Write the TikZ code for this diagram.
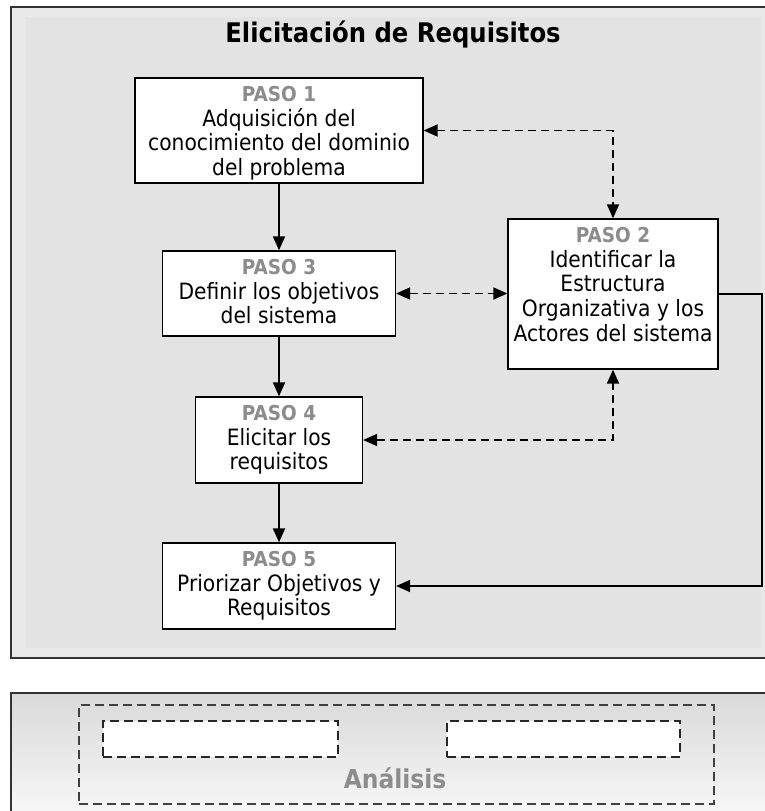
\documentclass[tikz,border=0pt]{standalone}
\usepackage{fontspec}
\setmainfont{DejaVu Sans}[FakeStretch=0.9]
\usetikzlibrary{arrows.meta}

\definecolor{framegray}{HTML}{333333}
\definecolor{bandgray}{HTML}{E9E9E9}
\definecolor{panelgray}{HTML}{E3E3E3}
\definecolor{pasogray}{HTML}{8C8C8C}
\definecolor{shadetop}{HTML}{D9D9D9}
\definecolor{shadebottom}{HTML}{F9F9F9}

\newcommand\pasolabel[1]{{\fontsize{20.5}{24.7}\selectfont\bfseries\color{pasogray}#1}}

\begin{document}
\begin{tikzpicture}[x=1pt,y=-1pt,
  stepbox/.style={draw=black, line width=1.3pt, fill=white, inner sep=0pt},
  steptext/.style={anchor=north, inner sep=0pt, align=center,
    font=\fontsize{22.5}{24.7}\selectfont},
  flow/.style={line width=1.8pt, -{Triangle[length=14pt,width=12pt]}},
  link/.style={line width=1.8pt, dash pattern=on 8pt off 5pt,
    {Triangle[length=14pt,width=12pt]}-{Triangle[length=14pt,width=12pt]}},
  slot/.style={draw=black!85, fill=white, line width=1.8pt,
    dash pattern=on 9pt off 5pt, inner sep=0pt, minimum width=235pt, minimum height=36pt}
]
\useasboundingbox (0,0) rectangle (764,811);

% upper panel: frame, outer band and inner area
\fill[bandgray] (11,7) rectangle (775,658);
\fill[panelgray] (26,17) rectangle (761,648);
\draw[framegray, line width=2pt] (775,7) -- (11,7) -- (11,658) -- (775,658);

% lower panel with vertical shading
\shade[top color=shadetop, bottom color=shadebottom] (11,693) rectangle (775,820);
\draw[framegray, line width=2pt] (775,693) -- (11,693) -- (11,820);

% title
\node[font=\fontsize{27}{30}\selectfont\bfseries, anchor=base, inner sep=0pt]
  (title) at (393,42) {Elicitación de Requisitos};

% step boxes
\node[stepbox, minimum width=288pt, minimum height=105pt] (p1) at (279,130.5) {};
\node[stepbox, minimum width=210pt, minimum height=150pt] (p2) at (613,294) {};
\node[stepbox, minimum width=233pt, minimum height=85pt]  (p3) at (279,293.5) {};
\node[stepbox, minimum width=167pt, minimum height=86pt]  (p4) at (279,440) {};
\node[stepbox, minimum width=233pt, minimum height=86pt]  (p5) at (279,586) {};

% step texts
\node[steptext] (t1) at ([yshift=-7pt]p1.north)
  {\rule{0pt}{17pt}\pasolabel{PASO 1}\\Adquisición del\\conocimiento del dominio\\del problema};
\node[steptext] (t2) at ([yshift=-7pt]p2.north)
  {\rule{0pt}{17pt}\pasolabel{PASO 2}\\Identificar la\\Estructura\\Organizativa y los\\Actores del sistema};
\node[steptext] (t3) at ([yshift=-7pt]p3.north)
  {\rule{0pt}{17pt}\pasolabel{PASO 3}\\Definir los objetivos\\del sistema};
\node[steptext] (t4) at ([yshift=-7pt]p4.north)
  {\rule{0pt}{17pt}\pasolabel{PASO 4}\\Elicitar los\\requisitos};
\node[steptext] (t5) at ([yshift=-7pt]p5.north)
  {\rule{0pt}{17pt}\pasolabel{PASO 5}\\Priorizar Objetivos y\\Requisitos};

% main sequence
\draw[flow] (p1.south) -- (p3.north);
\draw[flow] (p3.south) -- (p4.north);
\draw[flow] (p4.south) -- (p5.north);

% feedback from step 2 into step 5
\coordinate (loop) at (762,294);
\draw[flow] (p2.east) -- (loop) |- (p5.east);

% two-way exchanges with step 2
\draw[link] (p1.east) -| (p2.north);
\draw[link] (p3.east) -- (p3.east -| p2.west);
\draw[link] (p4.east) -| (p2.south);

% analysis block
\node[draw=black!75, line width=1.2pt, dash pattern=on 9pt off 5pt, inner sep=0pt,
  minimum width=635pt, minimum height=99pt] (analysis) at (396.5,754.5) {};
\node[slot] (slotA) at (220.5,739) {};
\node[slot, minimum width=233pt] (slotB) at (563.5,739) {};
\node[font=\fontsize{26}{30}\selectfont\bfseries, text=pasogray, inner sep=0pt,
  anchor=base] (analysislabel) at (395,788) {Análisis};
\end{tikzpicture}
\end{document}
